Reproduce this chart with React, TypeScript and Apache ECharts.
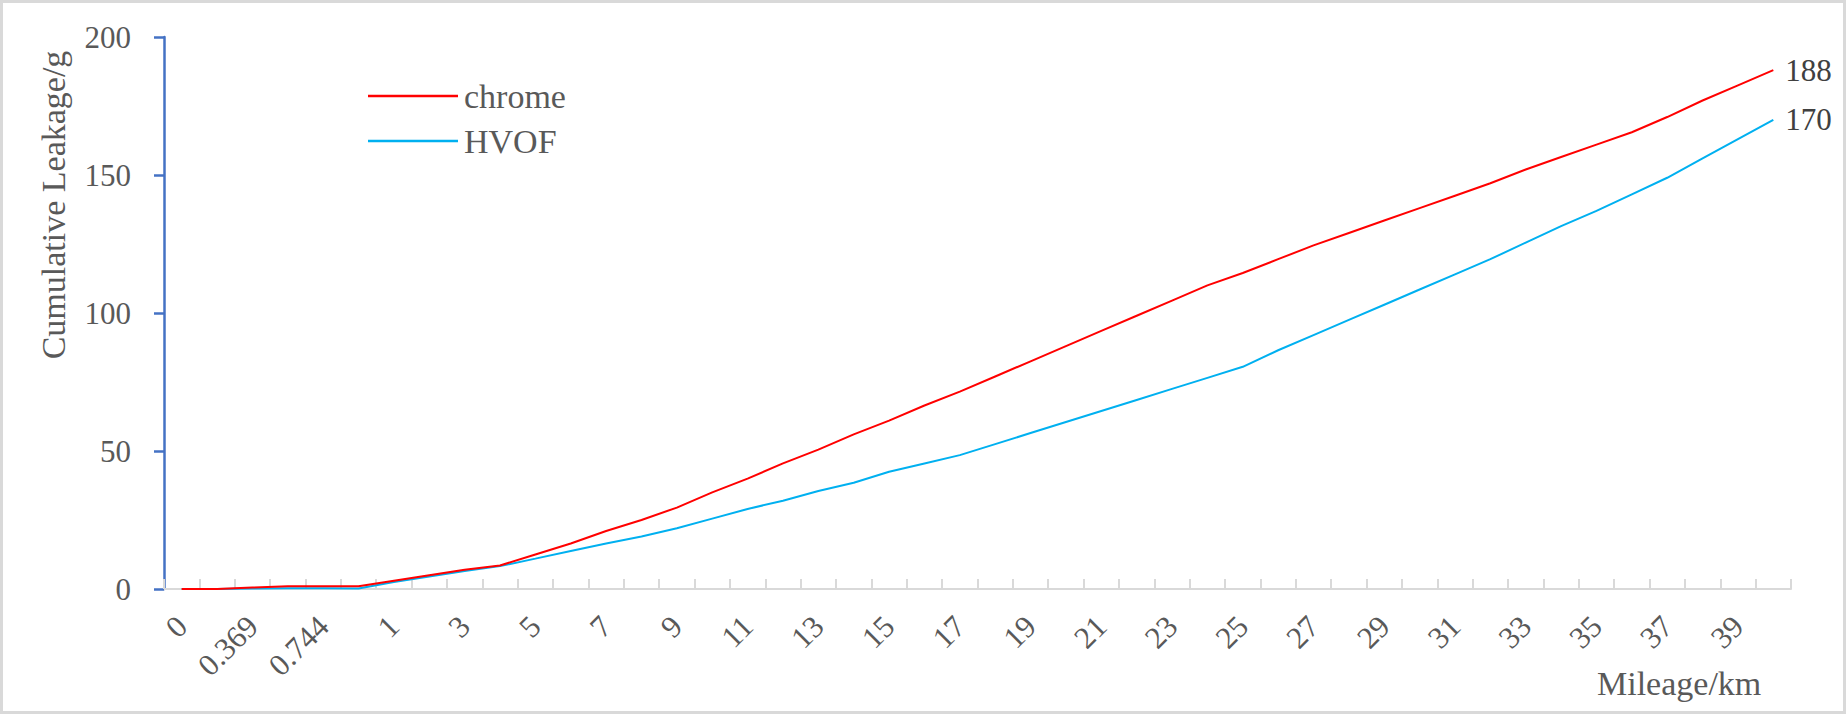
import React, { useEffect, useRef } from "react";
import * as echarts from "echarts";

const categories: string[] = [
  "0", "0.185", "0.369", "0.556", "0.744", "0.93",
  "1", "2", "3", "4", "5", "6", "7", "8", "9", "10",
  "11", "12", "13", "14", "15", "16", "17", "18", "19", "20",
  "21", "22", "23", "24", "25", "26", "27", "28", "29", "30",
  "31", "32", "33", "34", "35", "36", "37", "38", "39", "40",
];

const chrome: number[] = [
  0, 0, 0.5, 1, 1, 1,
  3, 5, 7, 8.5, 12.5, 16.5, 21, 25, 29.5, 35,
  40, 45.5, 50.5, 56, 61, 66.5, 71.5, 77, 82.5, 88,
  93.5, 99, 104.5, 110, 114.5, 119.5, 124.5, 129, 133.5, 138,
  142.5, 147, 152, 156.5, 161, 165.5, 171, 177, 182.5, 188,
];

const hvof: number[] = [
  0, 0, 0.2, 0.3, 0.3, 0.2,
  2.5, 4.5, 6.5, 8.3, 11, 13.8, 16.5, 19, 22, 25.5,
  29, 32, 35.5, 38.5, 42.5, 45.5, 48.5, 52.5, 56.5, 60.5,
  64.5, 68.5, 72.5, 76.5, 80.5, 86.5, 92, 97.5, 103, 108.5,
  114, 119.5, 125.5, 131.5, 137, 143, 149, 156, 163, 170,
];

const yTicks = { min: 0, max: 200, interval: 50 };

const FONT = "Liberation Serif";
const NUM_SIZE = 31;
const TEXT_SIZE = 34;

export default function App() {
  const ref = useRef<HTMLDivElement>(null);
  useEffect(() => {
    document.body.style.margin = "0";
    const chart = echarts.init(ref.current!, null, { renderer: "svg" });
    chart.setOption({
      animation: false,
      backgroundColor: "#ffffff",
      textStyle: { fontFamily: FONT },
      grid: { left: 164, right: 57, top: 37, bottom: 128, containLabel: false },
      legend: {
        orient: "vertical",
        left: 363,
        top: 74,
        itemWidth: 90,
        itemHeight: 2.5,
        itemGap: 11,
        icon: "rect",
        data: ["chrome", "HVOF"],
        textStyle: {
          fontFamily: FONT,
          fontSize: TEXT_SIZE,
          color: "#595959",
          lineHeight: 32,
          padding: [0, 0, 0, 1],
        },
      },
      title: {
        text: "Mileage/km",
        left: 1597,
        top: 666,
        padding: 0,
        textStyle: { fontFamily: FONT, fontSize: TEXT_SIZE, fontWeight: "normal", color: "#595959" },
      },
      xAxis: {
        type: "category",
        data: categories,
        boundaryGap: true,
        axisLine: { lineStyle: { color: "#d9d9d9", width: 2 } },
        axisTick: { show: true, inside: true, length: 10, interval: 0, lineStyle: { color: "#d9d9d9", width: 2 } },
        axisLabel: {
          interval: 1,
          rotate: 45,
          margin: 32,
          fontFamily: FONT,
          fontSize: NUM_SIZE,
          color: "#595959",
        },
        splitLine: { show: false },
      },
      yAxis: {
        type: "value",
        min: yTicks.min,
        max: yTicks.max,
        interval: yTicks.interval,
        axisLine: { show: true, lineStyle: { color: "#4472C4", width: 2.5 } },
        axisTick: { show: true, length: 10, lineStyle: { color: "#4472C4", width: 2.5 } },
        axisLabel: { margin: 33, fontFamily: FONT, fontSize: NUM_SIZE, color: "#595959" },
        splitLine: { show: false },
      },
      series: [
        {
          name: "chrome",
          type: "line",
          data: chrome,
          showSymbol: false,
          symbol: "none",
          color: "#FF0000",
          lineStyle: { color: "#FF0000", width: 2 },
          endLabel: {
            show: true,
            formatter: "{c}",
            distance: 12,
            fontFamily: FONT,
            fontSize: NUM_SIZE,
            color: "#404040",
          },
          z: 3,
        },
        {
          name: "HVOF",
          type: "line",
          data: hvof,
          showSymbol: false,
          symbol: "none",
          color: "#00B0F0",
          lineStyle: { color: "#00B0F0", width: 2 },
          endLabel: {
            show: true,
            formatter: "{c}",
            distance: 12,
            fontFamily: FONT,
            fontSize: NUM_SIZE,
            color: "#404040",
          },
          z: 2,
        },
      ],
      graphic: [
        {
          type: "rect",
          silent: true,
          z: -1,
          shape: { x: 1.5, y: 1.5, width: 1843, height: 711 },
          style: { fill: "none", stroke: "#d9d9d9", lineWidth: 3 },
        },
        {
          type: "text",
          silent: true,
          x: 53,
          y: 205,
          rotation: Math.PI / 2,
          style: {
            text: "Cumulative Leakage/g",
            font: `${TEXT_SIZE}px ${FONT}`,
            fill: "#595959",
            align: "center",
            verticalAlign: "middle",
          },
        },
      ],
    });
    return () => chart.dispose();
  }, []);
  return <div ref={ref} style={{ width: 1848, height: 717 }} />;
}
